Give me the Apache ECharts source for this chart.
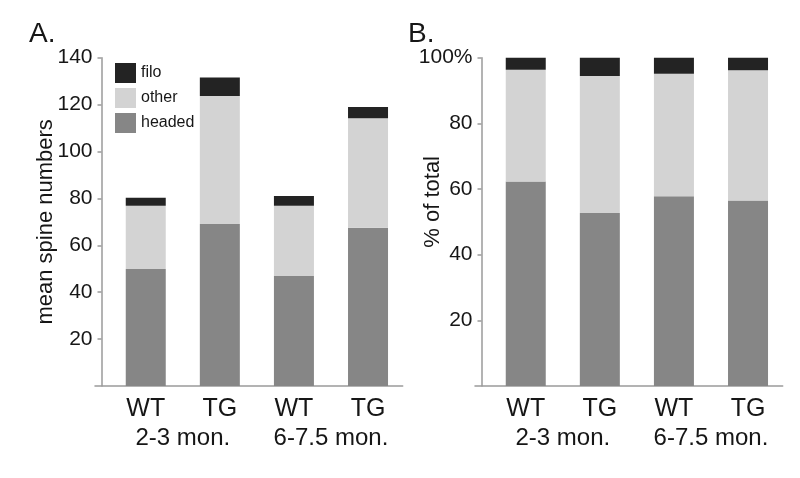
<!DOCTYPE html>
<html>
<head>
<meta charset="utf-8">
<script src="https://cdn.jsdelivr.net/npm/echarts@6/dist/echarts.min.js"></script>
<style>html,body{margin:0;padding:0;background:#fff}#c{width:800px;height:478px}</style>
</head>
<body>
<div id="c"></div>
<script>
const categories = ['WT', 'TG', 'WT', 'TG'];
const groups = ['2-3 mon.', '6-7.5 mon.'];
const groupPositions = [0.5, 2.5];
// Panel A: mean spine numbers
const aHeaded = [49.9, 69.1, 46.9, 67.5];
const aOther  = [27.0, 54.6, 30.0, 46.7];
const aFilo   = [3.4, 7.9, 4.1, 4.8];
// Panel B: % of total
const bHeaded = [62.3, 52.7, 57.8, 56.5];
const bOther  = [34.0, 41.7, 37.3, 39.7];
const bFilo   = [3.7, 5.6, 4.9, 3.8];
const aTicks = [20, 40, 60, 80, 100, 120, 140];
const bTicks = [20, 40, 60, 80, 100];

const FONT = 'Liberation Sans, Arial, sans-serif';
const TXT = '#161616';
const AX = '#9a9a9a';
const COL = {headed: '#868686', other: '#d3d3d3', filo: '#232323'};
const XMIN = -0.685, XMAX = 3.468;

// value first, category index second, so the value dimension is the stacked one
function rows(arr) { return arr.map((v, i) => [v, i]); }

function xAxes(grid) {
  return [{
    type: 'value', gridIndex: grid, min: XMIN, max: XMAX, position: 'bottom',
    axisLine: {show: true, onZero: false, lineStyle: {color: AX, width: 1.5}},
    axisTick: {show: false}, splitLine: {show: false},
    axisLabel: {customValues: [0, 1, 2, 3], formatter: v => categories[Math.round(v)],
      fontSize: 25, color: TXT, fontFamily: FONT, margin: 11}
  }, {
    type: 'value', gridIndex: grid, min: XMIN, max: XMAX, position: 'bottom',
    axisLine: {show: false, onZero: false}, axisTick: {show: false}, splitLine: {show: false},
    axisLabel: {customValues: groupPositions, formatter: v => groups[groupPositions.indexOf(v)],
      fontSize: 24, color: TXT, fontFamily: FONT, margin: 40}
  }];
}

function yAxis(grid, max, ticks, name, fmt, gap, pad) {
  return {
    type: 'value', gridIndex: grid, min: 0, max: max, interval: 20, offset: -6.5,
    name: name, nameLocation: 'middle', nameGap: gap, nameMoveOverlap: false,
    nameTextStyle: {fontSize: 22, color: TXT, fontFamily: FONT, padding: pad},
    axisLine: {show: true, onZero: false, lineStyle: {color: AX, width: 1.5}},
    axisTick: {show: true, length: 4, lineStyle: {color: AX, width: 1.5}, customValues: ticks},
    splitLine: {show: false},
    axisLabel: {customValues: ticks, formatter: fmt, fontSize: 21, color: TXT, fontFamily: FONT, margin: 9}
  };
}

function bar(name, data, xi, yi) {
  return {type: 'bar', name: name, stack: 'panel' + xi, xAxisIndex: xi, yAxisIndex: yi,
    barWidth: 40, dimensions: ['count', 'index'], encode: {y: 'count', x: 'index'},
    data: rows(data), itemStyle: {color: COL[name]}, emphasis: {disabled: true}};
}

const chart = echarts.init(document.getElementById('c'), null, {renderer: 'canvas'});
chart.setOption({
  animation: false,
  backgroundColor: '#fff',
  textStyle: {fontFamily: FONT},
  title: [
    {text: 'A.', left: 29, top: 20, padding: 0, textStyle: {fontSize: 28, fontWeight: 'normal', color: TXT, fontFamily: FONT}},
    {text: 'B.', left: 408, top: 20, padding: 0, textStyle: {fontSize: 28, fontWeight: 'normal', color: TXT, fontFamily: FONT}}
  ],
  legend: {
    data: ['filo', 'other', 'headed'], orient: 'vertical', left: 115, top: 63, padding: 0,
    itemWidth: 21, itemHeight: 20, itemGap: 5, icon: 'rect', selectedMode: false,
    textStyle: {fontSize: 16, color: TXT, fontFamily: FONT}
  },
  grid: [
    {left: 95, top: 57.7, width: 307.7, height: 328.3},
    {left: 475, top: 57.7, width: 307.7, height: 328.3}
  ],
  xAxis: xAxes(0).concat(xAxes(1)),
  yAxis: [
    yAxis(0, 140, aTicks, 'mean spine numbers', v => String(v), 45, [0, 0, 0, 0]),
    yAxis(1, 100, bTicks, '% of total', v => v === 100 ? '100%' : String(v), 38, [0, 0, 0, 40])
  ],
  series: [
    bar('headed', aHeaded, 0, 0),
    bar('other', aOther, 0, 0),
    bar('filo', aFilo, 0, 0),
    bar('headed', bHeaded, 2, 1),
    bar('other', bOther, 2, 1),
    bar('filo', bFilo, 2, 1)
  ]
});
</script>
</body>
</html>
